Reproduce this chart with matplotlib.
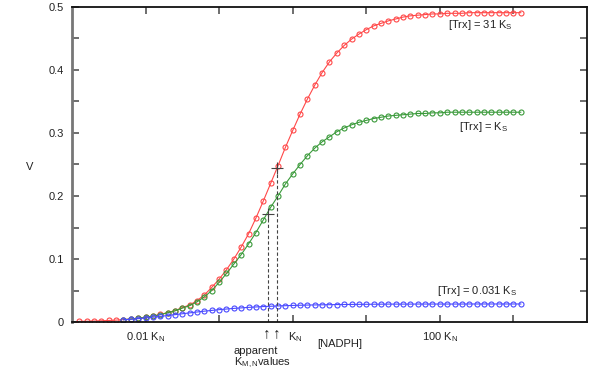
import numpy as np
import matplotlib
matplotlib.use('Agg')
import matplotlib.pyplot as plt

plt.rcParams['font.family'] = ['Liberation Sans', 'DejaVu Sans']
plt.rcParams['mathtext.fontset'] = 'custom'
plt.rcParams['mathtext.rm'] = 'Liberation Sans'
plt.rcParams['mathtext.it'] = 'Liberation Sans'

# log10 of [NADPH] / K_N, in steps of 0.1 decade
log_red = np.round(np.arange(-2.9, 3.15, 0.1), 1)
log_other = np.round(np.arange(-2.3, 3.15, 0.1), 1)

# [Trx] = 31 K_S
v_red = [0.0010, 0.0012, 0.0015, 0.0019, 0.0024, 0.0030, 0.0038, 0.0048, 0.0060, 0.0076,
         0.0095, 0.0120, 0.0150, 0.0180, 0.0230, 0.0270, 0.0340, 0.0430, 0.0550, 0.0680,
         0.083, 0.100, 0.119, 0.140, 0.165, 0.192, 0.220, 0.248, 0.277, 0.304,
         0.330, 0.354, 0.376, 0.396, 0.413, 0.427, 0.439, 0.449, 0.457, 0.464,
         0.470, 0.474, 0.478, 0.481, 0.484, 0.486, 0.487, 0.488, 0.489, 0.489,
         0.490, 0.490, 0.490, 0.491, 0.491, 0.491, 0.491, 0.491, 0.491, 0.491, 0.491]

# [Trx] = K_S
v_green = [0.0037, 0.0047, 0.0059, 0.0074, 0.0093, 0.0117, 0.0146, 0.0177, 0.0220, 0.0260,
           0.032, 0.040, 0.050, 0.063, 0.077, 0.092, 0.107, 0.124, 0.142, 0.162,
           0.182, 0.200, 0.219, 0.235, 0.250, 0.264, 0.276, 0.286, 0.294, 0.302,
           0.308, 0.313, 0.317, 0.320, 0.323, 0.325, 0.327, 0.328, 0.329, 0.330,
           0.331, 0.331, 0.332, 0.332, 0.333, 0.333, 0.333, 0.333, 0.333, 0.333,
           0.333, 0.333, 0.333, 0.333, 0.333]

# [Trx] = 0.031 K_S
v_blue = [0.0035, 0.0043, 0.0053, 0.0064, 0.0076, 0.0089, 0.0103, 0.0117, 0.0131, 0.0145,
          0.0159, 0.0172, 0.0184, 0.0196, 0.0206, 0.0216, 0.0224, 0.0232, 0.0239, 0.0245,
          0.0250, 0.0255, 0.0259, 0.0263, 0.0266, 0.0269, 0.0271, 0.0273, 0.0275, 0.0277,
          0.0278, 0.0279, 0.0280, 0.0281, 0.0282, 0.0283, 0.0284, 0.0284, 0.0284, 0.0284,
          0.0285, 0.0285, 0.0285, 0.0285, 0.0285, 0.0285, 0.0285, 0.0286, 0.0286, 0.0286,
          0.0286, 0.0286, 0.0286, 0.0286, 0.0286]

# apparent K_M,N points (half-maximal rate)
km_x = [10 ** -0.34, 10 ** -0.22]
km_v = [0.171, 0.244]

xtick_pos = [0.01, 0.1, 1, 10, 100, 1000]
xtick_labels = ['0.01 K$_\\mathrm{N}$', '', '  K$_\\mathrm{N}$', '', '100 K$_\\mathrm{N}$', '']

fig = plt.figure(figsize=(6, 3.73), dpi=100)
ax = fig.add_axes([72 / 600, 51 / 373, 515 / 600, 315 / 373])

mk = dict(marker='o', markersize=3.6, markerfacecolor='none', markeredgewidth=0.8, linewidth=0.8)
ax.plot(10 ** log_red, v_red, color='#ff4848', **mk)
ax.plot(10 ** log_other, v_green, color='#3a9a3a', **mk)
ax.plot(10 ** log_other, v_blue, color='#4a4aff', **mk)

for x, v in zip(km_x, km_v):
    ax.plot([x, x], [0, v], color='#444444', linestyle=(0, (3, 2)), linewidth=0.8)
    ax.plot(x, v, marker='+', markersize=9, color='#444444', markeredgewidth=0.8)

ax.set_xscale('log')
ax.set_xlim(1e-3, 1e4)
ax.set_ylim(0, 0.5)
ax.set_xticks(xtick_pos)
ax.set_xticklabels(xtick_labels)
ax.xaxis.set_minor_locator(matplotlib.ticker.NullLocator())
ax.set_yticks([0, 0.1, 0.2, 0.3, 0.4, 0.5])
ax.set_yticklabels(['0', '0.1', '0.2', '0.3', '0.4', '0.5'])
ax.set_yticks(np.arange(0.05, 0.5, 0.1), minor=True)
ax.tick_params(which='both', direction='in', top=True, right=True, length=5,
               width=1.2, color='#555555', labelsize=8, labelcolor='#222222', pad=6)

for side in ['top', 'right', 'bottom']:
    ax.spines[side].set_linewidth(1.3)
    ax.spines[side].set_color('#111111')
ax.spines['left'].set_linewidth(2)
ax.spines['left'].set_color('#777777')

def ftext(x, y, s, size=8, **kw):
    fig.text(x / 600, 1 - y / 373, s, fontsize=size, color='#222222', va='center', **kw)

ftext(448, 25, '[Trx] = 31 K$_\\mathrm{S}$')
ftext(459, 127, '[Trx] = K$_\\mathrm{S}$')
ftext(437, 291, '[Trx] = 0.031 K$_\\mathrm{S}$')
ftext(317, 344, '[NADPH]')
ftext(30, 167, 'V', ha='center')
ftext(266.5, 333, '\u2191', size=11, ha='center')
ftext(276.5, 333, '\u2191', size=11, ha='center')
ftext(234, 351, 'apparent')
ftext(234, 363, 'K$_\\mathrm{M,N}$values')

fig.savefig('out.png', dpi=100)
